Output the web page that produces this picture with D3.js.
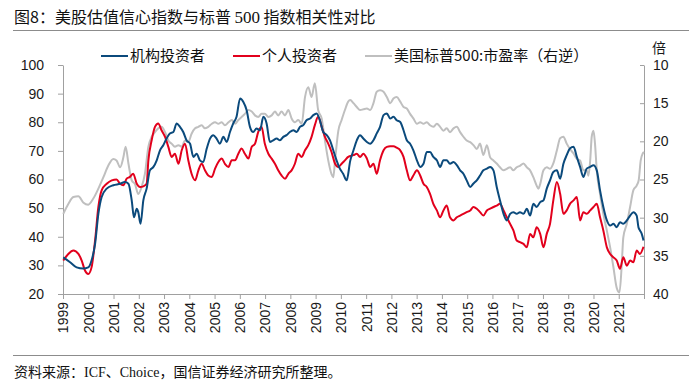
<!DOCTYPE html>
<html><head><meta charset="utf-8">
<script src="https://cdn.jsdelivr.net/npm/d3@7/dist/d3.min.js"></script>
<style>body{margin:0;background:#fff}svg{display:block}</style>
</head><body>
<svg id="chart" width="700" height="387"></svg>
<script>
// ---------- data ----------
const titleMain = "图8：美股估值信心指数与标普 ";
const titleNum = "500";
const titleTail = " 指数相关性对比";
const sourceText = "资料来源：ICF、Choice，国信证券经济研究所整理。";
const seriesNames = ["机构投资者", "个人投资者", "美国标普500:市盈率（右逆）"];
const rightUnit = "倍";
const yearLabels = d3.range(1999, 2022);     // 1999 … 2021
const yearTicks = d3.range(1999, 2023);      // tick marks incl. 2022 (right edge)
const leftTicks = [20, 30, 40, 50, 60, 70, 80, 90, 100];
const rightTicks = [10, 15, 20, 25, 30, 35, 40];

// [decimal year, index value]
const institutional = [
[1999.01,32.8],[1999.28,31.1],[1999.54,29.3],[1999.80,28.9],[2000.00,29.3],[2000.13,31.7],[2000.27,37.5],[2000.40,48],[2000.53,53.9],[2000.73,56.8],[2000.99,58],[2001.26,58.5],[2001.45,59.1],[2001.59,58.5],[2001.72,52.7],[2001.81,46.8],[2001.92,49.8],[2001.98,48.6],[2002.07,44.5],[2002.18,52.7],[2002.31,56.8],[2002.44,63.2],[2002.58,64.4],[2002.71,66.7],[2002.84,70.2],[2002.97,72],[2003.10,74.3],[2003.23,76.1],[2003.37,76.6],[2003.50,79.6],[2003.63,78.4],[2003.76,76.6],[2003.89,73.7],[2004.03,72.5],[2004.16,67.9],[2004.29,69],[2004.42,66.7],[2004.55,66.1],[2004.69,70.8],[2004.82,74.3],[2004.95,75.5],[2005.08,74.3],[2005.21,72.5],[2005.35,74.9],[2005.48,73.1],[2005.61,76.6],[2005.74,79.6],[2005.87,81.9],[2006.01,88.3],[2006.14,87.1],[2006.27,84.2],[2006.40,78.4],[2006.53,76.6],[2006.66,77.8],[2006.80,77.2],[2006.93,81.9],[2007.06,79.6],[2007.19,73.1],[2007.32,73.7],[2007.46,74.3],[2007.59,73.7],[2007.72,74.9],[2007.85,75.5],[2007.98,76.6],[2008.12,77.2],[2008.25,76.6],[2008.38,78.4],[2008.51,79],[2008.64,80.7],[2008.78,81.3],[2008.91,82.5],[2009.04,83.1],[2009.17,80.7],[2009.30,76.6],[2009.44,75.5],[2009.57,73.7],[2009.70,70.2],[2009.83,66.7],[2009.96,63.8],[2010.09,62],[2010.23,59.7],
[2010.37,66.5],[2010.50,70.2],[2010.63,73.7],[2010.76,75.5],[2010.89,74.3],[2011.03,73.1],[2011.16,72.5],[2011.29,73.7],[2011.42,76.1],[2011.55,78.4],[2011.69,82.5],[2011.82,83.1],[2011.95,81.3],[2012.08,81.9],[2012.21,80.7],[2012.35,80.1],[2012.48,77.2],[2012.61,73.7],[2012.74,72.5],[2012.87,70.2],[2013.01,66.7],[2013.14,64.4],[2013.27,65.5],[2013.40,69.6],[2013.53,69.6],[2013.66,67.9],[2013.80,66.7],[2013.93,64.4],[2014.06,66.7],[2014.19,66.7],[2014.32,65.5],[2014.46,66.1],[2014.59,65],[2014.72,63.2],[2014.85,62],[2014.98,59.7],[2015.12,57.4],[2015.25,58.6],[2015.38,59.7],[2015.51,61.4],[2015.64,63.2],[2015.78,63.8],[2015.91,64.4],[2016.04,63.2],[2016.17,57.4],[2016.30,52.7],[2016.44,48],[2016.57,45.7],[2016.70,48],[2016.83,48.6],[2016.96,48],[2017.09,48.6],[2017.23,48],[2017.36,49.8],[2017.49,47.4],[2017.62,51.5],[2017.75,50.4],[2017.89,52.1],[2018.02,52.7],[2018.15,56.8],[2018.28,59.7],[2018.41,62.6],[2018.55,63.2],[2018.68,60.3],[2018.81,65.5],[2018.94,68.5],[2019.07,70.8],[2019.21,71.4],[2019.34,67.9],[2019.47,64.4],[2019.60,60.9],[2019.73,63.8],[2019.87,64.4],[2020.00,65],[2020.13,63.2],[2020.26,56.2],[2020.39,50.4],[2020.53,45.7],[2020.66,43.9],[2020.79,44.5],[2020.92,43.3],[2021.05,45.1],[2021.18,44.5],[2021.32,45.7],[2021.45,47.4],[2021.58,48.6],[2021.71,47.4],[2021.78,43.3],[2021.84,42.2],[2021.91,41],[2021.98,38.7]
];

const individual = [
[1999.01,31.7],[1999.21,34],[1999.41,35.2],[1999.61,34],[1999.74,31.7],[1999.87,28.2],[2000.00,27],[2000.13,29.3],[2000.27,38.7],[2000.40,50.4],[2000.53,56.2],[2000.73,58.5],[2000.93,59.7],[2001.12,60],[2001.26,58.5],[2001.39,58],[2001.52,60.3],[2001.65,60.9],[2001.78,62],[2001.92,58.5],[2002.05,57.4],[2002.18,57.6],[2002.31,58.5],[2002.38,66.7],[2002.51,73.7],[2002.64,78.4],[2002.77,79.6],[2002.90,77.2],[2003.04,74.9],[2003.17,71.4],[2003.30,67.9],[2003.43,69],[2003.57,65.5],[2003.70,70.2],[2003.83,72.5],[2003.96,66.7],[2004.09,62],[2004.23,59.7],[2004.36,63.2],[2004.49,65.5],[2004.62,63.2],[2004.75,61.4],[2004.89,60.9],[2005.02,63.8],[2005.15,66.1],[2005.28,67.3],[2005.41,65.5],[2005.55,64.4],[2005.68,66.7],[2005.81,66.7],[2005.94,69],[2006.07,70.8],[2006.20,69],[2006.34,67.3],[2006.47,71.4],[2006.60,72.5],[2006.73,76.6],[2006.86,78.4],[2006.99,72.5],[2007.13,69],[2007.26,67.3],[2007.39,65.5],[2007.52,63.2],[2007.65,61.4],[2007.79,60.3],[2007.92,62],[2008.05,63.2],[2008.18,65.5],[2008.31,69],[2008.45,67.9],[2008.58,70.2],[2008.71,72],[2008.84,74.9],[2008.97,79],[2009.10,81.9],[2009.24,78.4],[2009.37,74.9],[2009.50,72.5],[2009.63,69.6],[2009.77,65.5],[2009.90,64.4],[2010.03,65.5],[2010.16,66.7],[2010.29,67.9],
[2010.50,68.5],[2010.63,69],[2010.76,67.9],[2010.89,69],[2011.03,67.3],[2011.16,64.4],[2011.29,65.5],[2011.42,62],[2011.55,66.7],[2011.69,70.2],[2011.82,71.4],[2011.95,71.6],[2012.08,71.6],[2012.21,71.1],[2012.35,70.2],[2012.48,67.9],[2012.61,63.2],[2012.74,59.7],[2012.87,61.4],[2013.01,63.2],[2013.14,61.4],[2013.27,58.5],[2013.40,57.4],[2013.53,55],[2013.66,51.5],[2013.80,49.2],[2013.93,46.8],[2014.06,49.2],[2014.19,50.9],[2014.32,46.8],[2014.46,45.7],[2014.59,46.8],[2014.72,47.4],[2014.85,48],[2014.98,48.6],[2015.12,49.2],[2015.25,50.4],[2015.38,49.8],[2015.51,48.6],[2015.64,47.4],[2015.78,49.2],[2015.91,49.8],[2016.04,50.4],[2016.17,50.9],[2016.30,51.5],[2016.44,49.2],[2016.57,46.8],[2016.70,44.5],[2016.83,42.2],[2016.96,38.7],[2017.09,38.1],[2017.23,37.5],[2017.36,36.3],[2017.49,41],[2017.62,39.8],[2017.75,43.3],[2017.89,41],[2018.02,36.3],[2018.15,41],[2018.28,44.5],[2018.41,52.7],[2018.55,59.1],[2018.68,55],[2018.81,48],[2018.94,49.2],[2019.07,51.5],[2019.21,52.7],[2019.34,53.9],[2019.47,45.7],[2019.60,48.6],[2019.73,48],[2019.87,49.2],[2020.00,50.4],[2020.13,51.5],[2020.26,46.8],[2020.39,42.2],[2020.53,36.3],[2020.66,34],[2020.79,32.8],[2020.92,31.7],[2021.05,28.8],[2021.18,32.8],[2021.32,29.9],[2021.45,31.7],[2021.58,31.1],[2021.71,35.2],[2021.84,34],[2021.98,36.5]
];

// [decimal year, S&P 500 P/E] — plotted on reversed right axis
const spxPE = [
[1999.01,29.5],[1999.21,28.2],[1999.41,27.3],[1999.61,27.2],[1999.80,28],[2000.00,28.3],[2000.20,27.5],[2000.40,26.2],[2000.60,24.7],[2000.79,23.2],[2000.99,22.3],[2001.12,22.5],[2001.26,23.4],[2001.39,22.1],[2001.48,20.7],[2001.59,22.9],[2001.72,25.1],[2001.85,25.6],[2001.98,26.9],[2002.11,26],[2002.24,24.3],[2002.38,20.7],[2002.51,19.4],[2002.64,18.8],[2002.77,18.3],[2002.90,18.1],[2003.04,18.8],[2003.17,19.9],[2003.30,20.3],[2003.43,20.7],[2003.57,20.5],[2003.70,20.7],[2003.83,19.9],[2003.96,20.1],[2004.09,19],[2004.23,18.3],[2004.36,18.1],[2004.49,17.9],[2004.62,18.3],[2004.75,18.1],[2004.89,17.7],[2005.02,17.5],[2005.15,17.7],[2005.28,17.5],[2005.41,17.9],[2005.55,17.5],[2005.68,17.2],[2005.81,17.7],[2005.94,17.2],[2006.07,16.8],[2006.20,16.4],[2006.34,15.9],[2006.47,16.1],[2006.60,16.6],[2006.73,16.8],[2006.86,16.4],[2006.99,16.4],[2007.13,16.8],[2007.26,16.6],[2007.39,16.1],[2007.52,16.6],[2007.65,16.1],[2007.79,16.6],[2007.92,15.9],[2008.05,17],[2008.18,17.5],[2008.31,17.2],[2008.45,17.7],[2008.58,14.2],[2008.71,12.9],[2008.84,14.2],[2008.97,12.4],[2009.10,15.9],[2009.24,17],[2009.37,19.9],[2009.50,22.5],[2009.63,24.3],[2009.70,24.7],[2009.77,22.5],[2009.90,18.6],[2010.03,17.2],[2010.16,15.9],[2010.29,14.8],
[2010.37,14.6],[2010.50,15],[2010.63,15.5],[2010.76,15.9],[2010.89,15.8],[2011.03,15.7],[2011.16,15.9],[2011.29,15],[2011.42,13.5],[2011.55,13.3],[2011.69,13.5],[2011.82,14.2],[2011.95,15],[2012.08,14.4],[2012.21,14.2],[2012.35,14.8],[2012.48,15.5],[2012.61,15.7],[2012.74,16.4],[2012.87,17],[2013.01,17.7],[2013.14,17.5],[2013.27,17.7],[2013.40,17.5],[2013.53,17.9],[2013.66,18.1],[2013.80,17.7],[2013.93,18.1],[2014.06,18.6],[2014.19,18.3],[2014.32,18.8],[2014.46,18.3],[2014.59,18.1],[2014.72,18.8],[2014.85,19.4],[2014.98,19.9],[2015.12,20.1],[2015.25,20.5],[2015.38,21],[2015.51,20.3],[2015.64,21.8],[2015.78,20.5],[2015.91,22.1],[2016.04,22.5],[2016.17,22.9],[2016.30,23.4],[2016.44,23.8],[2016.57,23.6],[2016.70,23.4],[2016.83,23.8],[2016.96,23.4],[2017.09,23.2],[2017.23,22.9],[2017.36,23.4],[2017.49,23.8],[2017.62,24.7],[2017.75,25.8],[2017.82,26.2],[2017.89,25.6],[2018.02,23.8],[2018.15,23.4],[2018.28,23.6],[2018.41,22.9],[2018.55,21.2],[2018.68,19.6],[2018.81,19.4],[2018.94,20.3],[2019.07,21],[2019.21,21.6],[2019.34,22.3],[2019.47,22.5],[2019.60,23.8],[2019.73,23.8],[2019.80,24.5],[2019.87,22.5],[2019.93,19.4],[2020.00,18.6],[2020.06,20.3],[2020.13,23.8],[2020.26,26.9],[2020.39,29.5],[2020.53,31.7],[2020.66,33.9],[2020.79,36.5],[2020.92,39.2],[2021.03,39.8],[2021.12,36.1],[2021.18,32.6],[2021.32,30.8],[2021.45,28.6],[2021.58,26.4],[2021.71,25.8],[2021.79,25.1],[2021.87,22.5],[2021.95,21.6],[2022.00,21.4]
];

const colors = ["#0b4a7c", "#e2001c", "#bfbfbf"];

// ---------- drawing ----------
const svg = d3.select("#chart");
const W = 700, H = 387;
const plot = {left: 63, right: 644, top: 65, bottom: 294};
const cjk = "'Noto Sans CJK SC', 'Noto Sans', sans-serif";
const sans = "'Liberation Sans', Arial, sans-serif";

svg.append("rect").attr("width", W).attr("height", H).attr("fill", "#fff");

// title
const t = svg.append("text").attr("x", 14).attr("y", 23)
  .attr("font-family", cjk).attr("font-size", 16).attr("fill", "#111");
t.append("tspan").text(titleMain);
t.append("tspan").attr("font-family", "'Liberation Serif', serif").attr("font-size", 17).text(titleNum);
t.append("tspan").text(titleTail);
svg.append("line").attr("x1", 13).attr("x2", 689).attr("y1", 30.5).attr("y2", 30.5)
  .attr("stroke", "#8c8c8c").attr("stroke-width", 1);

// footer
svg.append("line").attr("x1", 13).attr("x2", 689).attr("y1", 355.5).attr("y2", 355.5)
  .attr("stroke", "#8c8c8c").attr("stroke-width", 1);
svg.append("text").attr("x", 14).attr("y", 377)
  .attr("font-family", "'Liberation Serif', 'Noto Sans CJK SC', serif").attr("font-size", 14).attr("fill", "#111")
  .text(sourceText);

// scales
const x = d3.scaleLinear().domain([1999, 2022]).range([plot.left, plot.right]);
const yL = d3.scaleLinear().domain([20, 100]).range([plot.bottom, plot.top]);
const yR = d3.scaleLinear().domain([10, 40]).range([plot.top, plot.bottom]);

const axisColor = "#a0a0a0";
function styleAxis(g) {
  g.select(".domain").attr("stroke", axisColor);
  g.selectAll(".tick line").attr("stroke", axisColor);
  g.selectAll(".tick text").attr("fill", "#1a1a1a").attr("font-family", sans).attr("font-size", 14);
}

// left axis
svg.append("g").attr("transform", `translate(${plot.left},0)`)
  .call(d3.axisLeft(yL).tickValues(leftTicks).tickSize(5).tickPadding(14).tickSizeOuter(0))
  .call(styleAxis);

// right axis (reversed)
svg.append("g").attr("transform", `translate(${plot.right},0)`)
  .call(d3.axisRight(yR).tickValues(rightTicks).tickSize(-4).tickPadding(9).tickSizeOuter(0))
  .call(styleAxis);

// bottom axis
const xg = svg.append("g").attr("transform", `translate(0,${plot.bottom})`)
  .call(d3.axisBottom(x).tickValues(yearTicks).tickSize(5).tickFormat(d => yearLabels.includes(d) ? d : "").tickSizeOuter(0))
  .call(styleAxis);
xg.selectAll(".tick text")
  .attr("transform", "rotate(-90)")
  .attr("text-anchor", "end")
  .attr("x", -8).attr("y", 0).attr("dy", "0.35em");

// right unit
svg.append("text").attr("x", 652).attr("y", 53)
  .attr("font-family", cjk).attr("font-size", 14).attr("fill", "#1a1a1a").text(rightUnit);

// lines
const lineL = d3.line().x(d => x(d[0])).y(d => yL(d[1])).curve(d3.curveMonotoneX);
const lineR = d3.line().x(d => x(d[0])).y(d => yR(d[1])).curve(d3.curveMonotoneX);

svg.append("path").datum(spxPE).attr("d", lineR)
  .attr("fill", "none").attr("stroke", colors[2]).attr("stroke-width", 2).attr("stroke-linejoin", "round");
svg.append("path").datum(individual).attr("d", lineL)
  .attr("fill", "none").attr("stroke", colors[1]).attr("stroke-width", 2).attr("stroke-linejoin", "round");
svg.append("path").datum(institutional).attr("d", lineL)
  .attr("fill", "none").attr("stroke", colors[0]).attr("stroke-width", 2).attr("stroke-linejoin", "round");

// legend
const legendItems = [
  {name: seriesNames[0], color: colors[0], x: 101},
  {name: seriesNames[1], color: colors[1], x: 233},
  {name: seriesNames[2], color: colors[2], x: 365}
];
const lg = svg.append("g");
legendItems.forEach(it => {
  lg.append("line").attr("x1", it.x).attr("x2", it.x + 27).attr("y1", 56).attr("y2", 56)
    .attr("stroke", it.color).attr("stroke-width", 2);
  lg.append("text").attr("x", it.x + 29).attr("y", 61)
    .attr("font-family", cjk).attr("font-size", 15).attr("fill", "#111").text(it.name);
});
</script>
</body></html>
